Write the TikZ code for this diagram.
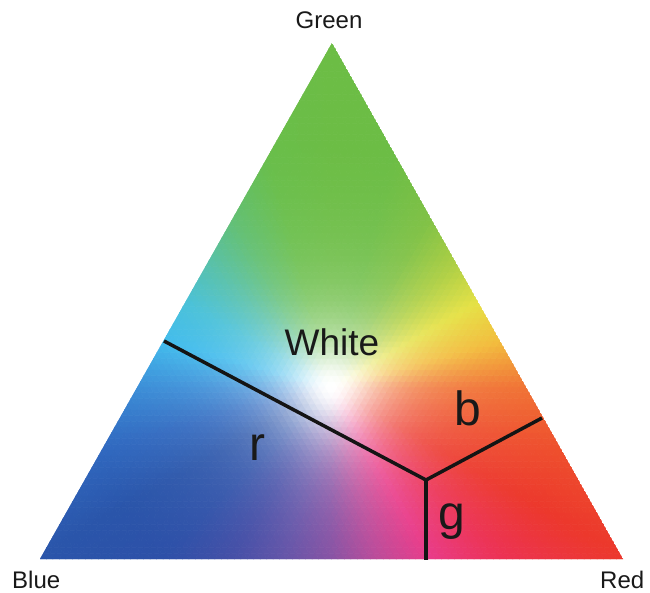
\documentclass[tikz,border=0pt]{standalone}
\usepackage{fontspec}
\setmainfont{Liberation Sans}
\definecolor{hue0}{RGB}{240,112,48}
\definecolor{hue1}{RGB}{242,185,52}
\definecolor{hue2}{RGB}{228,224,60}
\definecolor{hue3}{RGB}{170,205,60}
\definecolor{hue4}{RGB}{125,192,65}
\definecolor{hue5}{RGB}{108,189,69}
\definecolor{hue6}{RGB}{108,189,69}
\definecolor{hue7}{RGB}{105,190,74}
\definecolor{hue8}{RGB}{95,190,112}
\definecolor{hue9}{RGB}{80,190,168}
\definecolor{hue10}{RGB}{65,190,215}
\definecolor{hue11}{RGB}{58,185,236}
\definecolor{hue12}{RGB}{55,140,215}
\definecolor{hue13}{RGB}{48,105,192}
\definecolor{hue14}{RGB}{42,85,170}
\definecolor{hue15}{RGB}{45,80,168}
\definecolor{hue16}{RGB}{65,75,165}
\definecolor{hue17}{RGB}{95,78,165}
\definecolor{hue18}{RGB}{130,75,160}
\definecolor{hue19}{RGB}{185,68,150}
\definecolor{hue20}{RGB}{232,55,135}
\definecolor{hue21}{RGB}{236,50,85}
\definecolor{hue22}{RGB}{236,56,44}
\definecolor{hue23}{RGB}{238,80,45}
\definecolor{hue24}{RGB}{240,112,48}
\newcommand\mkcell[2]{%
  \pgfmathsetmacro\wRr{#1}%
  \pgfmathsetmacro\wGg{#2}%
  \pgfmathsetmacro\ddx{(\wRr-1/3)*583+(\wGg-1/3)*292}%
  \pgfmathsetmacro\ddy{(\wGg-1/3)*516}%
  \pgfmathsetmacro\ang{atan2(\ddy,\ddx)}%
  \pgfmathsetmacro\ang{\ang<0 ? \ang+360 : \ang}%
  \pgfmathtruncatemacro\hk{floor(\ang/15)}%
  \pgfmathtruncatemacro\hkk{\hk+1}%
  \pgfmathsetmacro\tp{(\ang-15*\hk)/15*100}%
  \pgfmathsetmacro\dd{veclen(\ddx,\ddy)/55}%
  \pgfmathsetmacro\wq{100*(1-max(0,(1/(1+\dd*\dd)-0.05)/0.95))}%
  \colorlet{cc}{hue\hkk!\tp!hue\hk!\wq!white}%
}
\begin{document}
\begin{tikzpicture}[x=1pt,y=-1pt,
  lab/.style={inner sep=0pt, text=black!90, font=\fontsize{24}{28}\selectfont},
  big/.style={inner sep=0pt, text=black!90, font=\fontsize{48}{56}\selectfont},
  divider/.style={line width=3.5pt, black!92, line cap=butt, line join=miter},
  cell/.style={fill=cc, draw=cc, line width=0.5pt, line join=round}]
\fill[white] (0,0) rectangle (650,593);
\useasboundingbox (0,0) rectangle (650,593);
\coordinate (B) at (40,559);
\coordinate (R) at (623,559);
\coordinate (G) at (332,43);
\begin{scope}
\clip (B) -- (R) -- (G) -- cycle;
\foreach \a in {0,...,89}{
  \pgfmathtruncatemacro\bm{89-\a}
  \foreach \b in {0,...,\bm}{
    \pgfmathsetmacro\xA{40+\a*6.47778+\b*3.24444}
    \pgfmathsetmacro\yA{559-\b*5.73333}
    \mkcell{(\a+1/3)/90}{(\b+1/3)/90}
    \path[cell] (\xA,\yA) -- (\xA+6.47778,\yA) -- (\xA+3.24444,\yA-5.73333) -- cycle;
    \ifnum\numexpr\a+\b\relax<89
      \mkcell{(\a+2/3)/90}{(\b+2/3)/90}
      \path[cell] (\xA+6.47778,\yA) -- (\xA+9.72222,\yA-5.73333) -- (\xA+3.24444,\yA-5.73333) -- cycle;
    \fi
  }
}
\end{scope}
\coordinate (L) at (164,341);
\coordinate (J) at (426,480);
\coordinate (Rt) at (542,418);
\coordinate (Bt) at (426,560);
\draw[divider] (L) -- (J) -- (Rt);
\draw[divider] (J) -- (Bt);
\node[lab, anchor=base] (green) at (329,29) {Green};
\node[lab, anchor=base west] (blue) at (12,588) {Blue};
\node[lab, anchor=base west] (red) at (600,588) {Red};
\node[inner sep=0pt, text=black!90, font=\fontsize{37}{44}\selectfont, anchor=base] (white) at (332,355) {White};
\node[big, anchor=base west] (lb) at (454,425) {b};
\node[big, anchor=base west] (lr) at (249,460) {r};
\node[big, anchor=base west] (lg) at (438,529) {g};
\end{tikzpicture}
\end{document}
